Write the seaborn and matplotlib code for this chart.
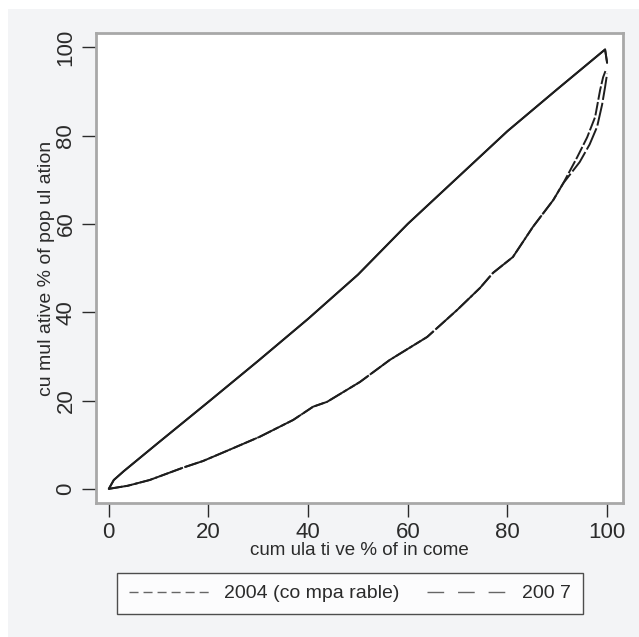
import matplotlib
matplotlib.use("Agg")
import matplotlib.pyplot as plt
import pandas as pd
import seaborn as sns
from matplotlib.patches import Rectangle

# ─── Data ─────────────────────────────────────────────────────────────────────
YEARS = ["2004 (co mpa rable)", "200 7"]

upper_x_2004 = [0, 1, 3, 10, 20, 30, 40, 50, 60, 70, 80, 90, 99.6, 100]
upper_y_2004 = [0, 2, 4, 10.5, 19.7, 29, 38.5, 48.5, 60, 70.5, 81, 90.5, 99.5, 96.5]
upper_x_2007 = [0, 1, 3, 10, 20, 30, 40, 50, 60, 70, 80, 90, 99.6, 100]
upper_y_2007 = [0, 2, 4, 10.5, 19.7, 29, 38.5, 48.5, 60, 70.5, 81, 90.5, 99.5, 96.5]

lower_x_2004 = [0, 3.8, 8.2, 14.9, 18.9, 23.7, 30.3, 37, 41, 43.8, 50.4, 56.4,
                63.9, 69.9, 74.5, 77.1, 81.1, 85.1, 89.2, 91.2, 94, 96, 97.6,
                98.6, 99.2, 99.8]
lower_y_2004 = [0, 0.7, 2, 4.8, 6.3, 8.6, 11.8, 15.6, 18.6, 19.7, 24.2, 29.2,
                34.4, 40.5, 45.5, 48.9, 52.5, 59.3, 65.4, 69.2, 75.1, 79.6, 84.2,
                90.3, 93.2, 95]
lower_x_2007 = [0, 3.8, 8.2, 14.9, 18.9, 23.7, 30.3, 37, 41, 43.8, 50.4, 56.4,
                63.9, 69.9, 74.5, 77.1, 81.1, 85.1, 89.2, 91.2, 94.5, 96.5, 98,
                99, 99.6, 100]
lower_y_2007 = [0, 0.7, 2, 4.8, 6.3, 8.6, 11.8, 15.6, 18.6, 19.7, 24.2, 29.2,
                34.4, 40.5, 45.5, 48.9, 52.5, 59.3, 65.4, 69.2, 74, 78, 82,
                87, 91, 94]

X_TICKS = [0, 20, 40, 60, 80, 100]
Y_TICKS = [0, 20, 40, 60, 80, 100]
X_LABEL = "cum ula ti ve % of in come"
Y_LABEL = "cu mul ative % of pop ul ation"

# ─── Style ────────────────────────────────────────────────────────────────────
sns.set_style("white")
plt.rcParams["font.family"] = ["Liberation Sans", "DejaVu Sans"]
TEXT = "#2b2b2b"
BG = "#f3f4f6"
LINE = "#1e1e1e"
# dash patterns (points, at linewidth 1)
LEG_DASHES = {YEARS[0]: (6.5, 3.6), YEARS[1]: (12, 10)}
PLOT_DASHES = {YEARS[0]: (7, 1.2), YEARS[1]: (12, 1.5)}

fig = plt.figure(figsize=(6.39, 6.37), dpi=100)
fig.patch.set_facecolor("white")
fig.patches.append(Rectangle((8 / 639, 0), 1, 1 - 9 / 637, transform=fig.transFigure,
                             facecolor=BG, edgecolor="none", zorder=-10))

ax = fig.add_axes([0.150, 0.2104, 0.825, 0.7376])
ax.set_facecolor("white")

# upper curves of both years lie on top of each other and read as one solid line
curves = [
    (YEARS[0], upper_x_2004, upper_y_2004, False),
    (YEARS[1], upper_x_2007, upper_y_2007, False),
    (YEARS[0], lower_x_2004, lower_y_2004, True),
    (YEARS[1], lower_x_2007, lower_y_2007, True),
]
for year, xs, ys, lower in curves:
    df = pd.DataFrame({"x": xs, "y": ys})
    sns.lineplot(data=df, x="x", y="y", ax=ax, color=LINE, linewidth=1.4,
                 estimator=None, sort=False,
                 label=year if lower else None, dashes=False)
    if lower:
        ax.lines[-1].set_dashes(PLOT_DASHES[year])

ax.set_xlim(-2.6, 103.2)
ax.set_ylim(-3.2, 103.2)
ax.set_xticks(X_TICKS)
ax.set_yticks(Y_TICKS)
ax.tick_params(direction="out", length=10, width=1, color=TEXT,
               labelsize=16, labelcolor=TEXT, pad=4,
               bottom=True, left=True)
plt.setp(ax.get_yticklabels(), rotation=90, va="center")
ax.set_xlabel(X_LABEL, fontsize=13.5, color=TEXT, labelpad=-1)
ax.set_ylabel(Y_LABEL, fontsize=14, color=TEXT, labelpad=0)
for s in ax.spines.values():
    s.set_color("#a8a8a8")
    s.set_linewidth(2)

ax.get_legend().remove()
handles, labels = ax.get_legend_handles_labels()
leg = fig.legend(handles, labels, loc="center", ncol=2, mode="expand",
                 bbox_to_anchor=(0.183, 0.0345, 0.729, 0.0675),
                 frameon=True, fancybox=False, fontsize=14,
                 handlelength=4.3, handletextpad=0.6, borderaxespad=0,
                 columnspacing=2, borderpad=0.6)
leg.get_frame().set_edgecolor("#222222")
leg.get_frame().set_linewidth(1)
leg.get_frame().set_facecolor("white")
for h, lab in zip(leg.get_lines(), labels):
    h.set_color("#666666")
    h.set_linewidth(1)
    h.set_dashes(LEG_DASHES[lab])
for t in leg.get_texts():
    t.set_color(TEXT)

fig.savefig("out.png", dpi=100)
